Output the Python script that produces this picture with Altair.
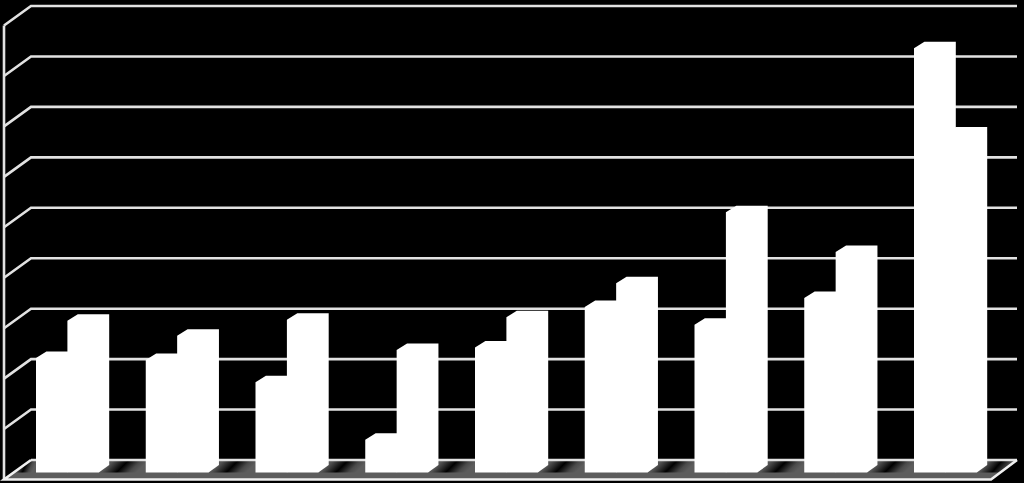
import altair as alt
import pandas as pd

# Bar heights in gridline units (no labels in the reference)
series_a = [2.26, 2.22, 1.78, 0.64, 2.47, 3.27, 2.92, 3.45, 8.40]
series_b = [3.00, 2.70, 3.02, 2.42, 3.07, 3.74, 5.15, 4.36, 6.71]
grid_levels = [0, 1, 2, 3, 4, 5, 6, 7, 8, 9]

W, H = 1024, 483
STEP = 109.75           # pixels per category
UNIT = 50.44            # pixels per gridline unit
X0 = 36                 # first bar's front-left pixel
Y0 = 460                # back-floor pixel

def ux(px):
    return (px - X0) / STEP

def uy(px):
    return (Y0 - px) / UNIT

BAR_W = ux(67.4) - ux(36)
DX = ux(46.4) - ux(36)
DY = 6.5 / UNIT
BASE_BACK = uy(465)
BASE_FRONT = uy(472.5)

WALL_X = ux(4)
BACK_X = ux(31)
BACK_END = ux(1017)
FRONT_END = ux(991)
FLOOR_DY = 19.5 / UNIT

# bars
bar_rows = []
for i, (a, b) in enumerate(zip(series_a, series_b)):
    for j, h in enumerate((a, b)):
        left = i + j * BAR_W
        top = uy(465.5) + h
        key = f"{i}-{j}"
        for x, t, bot in (
            (left, top - DY, BASE_FRONT),
            (left + DX, top, BASE_FRONT),
            (left + BAR_W, top, BASE_FRONT),
            (left + BAR_W + DX, top, BASE_BACK),
        ):
            bar_rows.append({"id": key, "x": x, "y": t, "y2": bot})
bars_df = pd.DataFrame(bar_rows)

# grid polylines
grid_rows = []
for k in grid_levels:
    if k == 0:
        continue
    for n, (x, y) in enumerate(((WALL_X, k - FLOOR_DY), (BACK_X, k), (BACK_END, k))):
        grid_rows.append({"id": f"g{k}", "o": n, "x": x, "y": y})
for n, (x, y) in enumerate(((WALL_X, grid_levels[-1] - FLOOR_DY), (WALL_X, -FLOOR_DY))):
    grid_rows.append({"id": "wall", "o": n, "x": x, "y": y})
for n, (x, y) in enumerate(((BACK_X, 0), (BACK_END, 0))):
    grid_rows.append({"id": "back", "o": n, "x": x, "y": y})
grid_df = pd.DataFrame(grid_rows)

edge_rows = []
for n, (x, y) in enumerate(((BACK_X, 0), (WALL_X, -FLOOR_DY), (FRONT_END, -FLOOR_DY), (BACK_END, 0))):
    edge_rows.append({"id": "floor", "o": n, "x": x, "y": y})
edge_df = pd.DataFrame(edge_rows)

# floor
floor_df = pd.DataFrame([
    {"x": WALL_X, "y": -FLOOR_DY, "y2": -FLOOR_DY},
    {"x": BACK_X, "y": 0, "y2": -FLOOR_DY},
    {"x": FRONT_END, "y": 0, "y2": -FLOOR_DY},
    {"x": BACK_END, "y": 0, "y2": 0},
])

# dark shadow bands between bars
band_rows = []
for i in range(len(series_a) - 1):
    xa = i + 2 * BAR_W
    xb = i + 1
    for x in (xa, xb):
        band_rows.append({"id": f"b{i}", "x": x, "y": 0, "y2": BASE_FRONT})
for x, t, b in ((ux(14), BASE_FRONT, BASE_FRONT), (ux(31), 0, BASE_FRONT), (ux(36), 0, BASE_FRONT)):
    band_rows.append({"id": "left", "x": x, "y": t, "y2": b})
last = len(series_a) - 1 + 2 * BAR_W
for x, t, b in ((last, 0, BASE_FRONT), (ux(1000), 0, BASE_FRONT), (ux(1017), 0, 0)):
    band_rows.append({"id": "right", "x": x, "y": t, "y2": b})
band_df = pd.DataFrame(band_rows)

x_enc = alt.X("x:Q", axis=None, scale=alt.Scale(domain=[ux(0), ux(W)], nice=False, zero=False))
y_enc = alt.Y("y:Q", axis=None, stack=None, scale=alt.Scale(domain=[uy(H), uy(0)], nice=False, zero=False))

floor = alt.Chart(floor_df).mark_area(color="#5c5c5c", orient="vertical").encode(x=x_enc, y=y_enc, y2="y2:Q")

band_gradient = alt.Gradient(
    gradient="linear", x1=0, y1=0, x2=1, y2=0.27,
    stops=[
        alt.GradientStop(offset=0.0, color="#5c5c5c"),
        alt.GradientStop(offset=0.3, color="#555555"),
        alt.GradientStop(offset=0.6, color="#000000"),
        alt.GradientStop(offset=0.85, color="#4a4a4a"),
        alt.GradientStop(offset=1.0, color="#5c5c5c"),
    ],
)
bands = alt.Chart(band_df).mark_area(color=band_gradient, orient="vertical").encode(
    x=x_enc, y=y_enc, y2="y2:Q", detail="id:N"
)

grid = alt.Chart(grid_df).mark_line(color="#e2e2e2", strokeWidth=2.6, interpolate="linear").encode(
    x=x_enc, y=y_enc, detail="id:N", order="o:Q"
)
edges = alt.Chart(edge_df).mark_line(color="#f0f0f0", strokeWidth=2.6, interpolate="linear").encode(
    x=x_enc, y=y_enc, detail="id:N", order="o:Q"
)
bars = alt.Chart(bars_df).mark_area(color="#ffffff", orient="vertical", interpolate="linear").encode(
    x=x_enc, y=y_enc, y2="y2:Q", detail="id:N"
)

chart = (
    alt.layer(floor, bands, grid, edges, bars)
    .properties(width=W, height=H, padding=0, background="#000000", autosize=alt.AutoSizeParams(type="none"))
    .configure_view(stroke=None)
)

chart.save("out.html", embed_options={
    "renderer": "svg",
    "actions": False,
    "defaultStyle": "html,body{margin:0;padding:0;background:#000;overflow:hidden}",
})
